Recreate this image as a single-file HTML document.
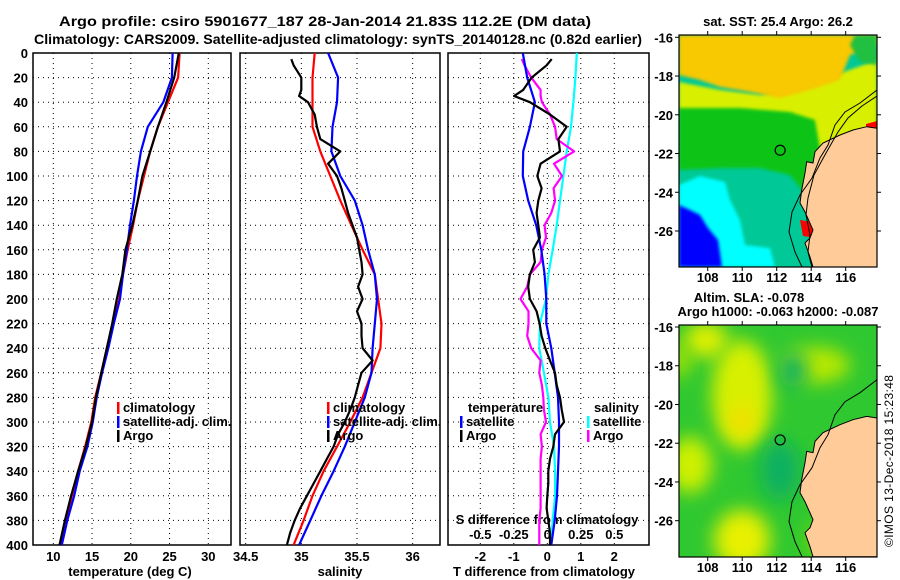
<!DOCTYPE html>
<html><head><meta charset="utf-8"><style>
html,body{margin:0;padding:0;background:#fff}
svg{display:block}
text{font-family:"Liberation Sans",sans-serif;font-weight:bold;fill:#000}
</style></head><body>
<svg id="chart" width="900" height="580" viewBox="0 0 900 580" xmlns="http://www.w3.org/2000/svg">
<defs>
<clipPath id="c1"><rect x="33" y="53" width="198" height="492"/></clipPath>
<clipPath id="c2"><rect x="240" y="53" width="200" height="492"/></clipPath>
<clipPath id="c3"><rect x="448" y="53" width="201" height="492"/></clipPath>
<clipPath id="m1"><rect x="679" y="35" width="198" height="232"/></clipPath>
<clipPath id="m2"><rect x="679" y="325" width="198" height="232"/></clipPath>
<filter id="bl" x="-20%" y="-20%" width="140%" height="140%"><feGaussianBlur stdDeviation="1.5"/></filter>
<filter id="bl2" x="-50%" y="-50%" width="200%" height="200%"><feGaussianBlur stdDeviation="9"/></filter>
</defs>
<text x="325" y="26" font-size="14" text-anchor="middle" textLength="532" lengthAdjust="spacingAndGlyphs">Argo profile: csiro 5901677_187 28-Jan-2014 21.83S 112.2E (DM data)</text>
<text x="338" y="44" font-size="14" text-anchor="middle" textLength="608" lengthAdjust="spacingAndGlyphs">Climatology: CARS2009. Satellite-adjusted climatology: synTS_20140128.nc (0.82d earlier)</text>
<g id="axes"></g>
<g id="maps"></g>
<text transform="translate(893,547) rotate(-90)" font-size="12" textLength="172" style="font-weight:normal">©IMOS 13-Dec-2018 15:23:48</text>
</svg>
<script>
// ---- data ----
const depths20 = [0,20,40,60,80,100,120,140,160,180,200,220,240,260,280,300,320,340,360,380,400];
const depths10 = [5,10,20,30,35,40,50,60,70,80,90,100,110,120,130,140,150,160,170,180,190,200,210,220,230,240,250,260,270,280,290,300,310,320,330,340,350,360,370,380,390,400];
const tempClim = [26.3,26.1,24.8,23.5,22.5,21.7,20.9,20.3,19.6,19.0,18.5,17.7,16.9,16.2,15.4,14.9,14.1,13.2,12.4,11.6,11.0];
const tempSat  = [25.4,25.3,24.2,22.2,21.3,20.8,20.4,19.9,19.5,19.0,18.6,17.8,17.1,16.3,15.6,15.1,14.4,13.4,12.7,11.8,11.1];
const tempArgo = [26.2,25.6,24.6,23.5,22.5,21.5,20.9,20.2,19.3,18.9,18.2,17.6,16.9,16.2,15.5,15.0,14.2,13.2,12.3,11.5,10.8];
const salClim  = [35.12,35.10,35.10,35.10,35.17,35.26,35.35,35.45,35.55,35.66,35.69,35.72,35.71,35.63,35.55,35.44,35.32,35.20,35.10,35.02,34.93];
const salSat   = [35.24,35.33,35.32,35.28,35.27,35.35,35.48,35.55,35.60,35.66,35.68,35.66,35.64,35.63,35.57,35.48,35.39,35.29,35.18,35.08,34.98];
const salArgo  = [34.91,34.93,35.00,35.00,34.98,35.06,35.12,35.14,35.17,35.35,35.24,35.32,35.36,35.39,35.42,35.46,35.50,35.52,35.54,35.55,35.51,35.55,35.50,35.54,35.54,35.55,35.64,35.54,35.51,35.48,35.44,35.39,35.33,35.29,35.23,35.17,35.11,35.05,34.99,34.94,34.90,34.87];
const dTSat    = [-0.73,-0.60,-0.37,-0.52,-0.72,-0.73,-0.57,-0.33,-0.18,-0.08,-0.03,-0.03,0.12,0.22,0.32,0.35,0.35,0.32,0.29,0.22,0.12];
const dSSat    = [0.22,0.21,0.195,0.177,0.145,0.12,0.095,0.07,0.04,0.008,-0.01,-0.055,-0.06,-0.025,0.008,0.02,0.05,0.058,0.058,0.04,0.028];
const dTArgo   = [0.13,-0.02,-0.47,-0.72,-0.99,-0.52,0.08,0.58,0.33,0.38,-0.20,-0.30,-0.17,-0.27,-0.32,-0.27,-0.22,-0.42,-0.37,-0.52,-0.57,-0.52,-0.32,-0.23,-0.17,-0.06,0.08,0.23,0.28,0.38,0.43,0.50,0.23,0.18,0.08,0.03,0.03,0.00,-0.02,0.03,0.08,0.08];
const dSArgo   = [-0.19,-0.17,-0.12,-0.05,-0.05,-0.04,0.02,0.058,0.07,0.20,0.05,0.11,0.047,0.058,0.03,-0.02,-0.01,-0.04,-0.05,-0.13,-0.15,-0.20,-0.14,-0.14,-0.15,-0.12,-0.05,-0.06,-0.04,-0.03,-0.025,-0.01,-0.05,-0.04,-0.05,-0.05,-0.05,-0.05,-0.05,-0.06,-0.06,-0.06];
const depthTicks = [0,20,40,60,80,100,120,140,160,180,200,220,240,260,280,300,320,340,360,380,400];
const tempTicks = [10,15,20,25,30];
const salTicks = [34.5,35,35.5,36];
const dTTicks = [-2,-1,0,1,2];
const dSTicks = [-0.5,-0.25,0,0.25,0.5];
const dSTickLabels = ["-0.5","-0.25","0","0.25","0.5"];
const lonTicks = [108,110,112,114,116];
const latTicks = [-16,-18,-20,-22,-24,-26];
const argoLon = 112.2, argoLat = -21.83;

// ---- scales ----
const yD = d => 53 + d*1.23;
const xT = t => 53.3 + (t-10)*7.75;
const xS = s => 245.7 + (s-34.5)*111.3;
const xDT = v => 547.3 + v*33.5;
const xDS = v => 547.3 + v*134;
const mx = lon => 707.7 + (lon-108)*17.25;
const my1 = lat => 37.3 + (-16-lat)*19.37;
const my2 = lat => 327 + (-16-lat)*19.37;

const NS='http://www.w3.org/2000/svg';
function mk(tag, attrs, parent){const e=document.createElementNS(NS,tag);for(const k in attrs)e.setAttribute(k,attrs[k]);parent.appendChild(e);return e;}
const ax=document.getElementById('axes');

const panels=[{l:33,r:231,clip:'c1',xs:xT,ticks:tempTicks,lab:'temperature (deg C)',labx:130,name:'temperature-panel'},
{l:240,r:440,clip:'c2',xs:xS,ticks:salTicks,lab:'salinity',labx:340,name:'salinity-panel'},
{l:448,r:649,clip:'c3',xs:xDT,ticks:dTTicks,lab:'T difference from climatology',labx:544,name:'difference-panel'}];
panels.forEach(p=>{
  const g=mk('g',{},ax);
  
  
  depthTicks.forEach(d=>{const ln=mk('line',{x1:p.l,x2:p.r,y1:yD(d),y2:yD(d),stroke:'#000','stroke-width':1,'stroke-dasharray':'1 4'},g);
    
    });
  p.ticks.forEach(t=>{const x=p.xs(t);const ln=mk('line',{x1:x,x2:x,y1:53,y2:545,stroke:'#000','stroke-width':1,'stroke-dasharray':'1 4'},g);
    
    
    const tx=mk('text',{x:x,y:561,'font-size':13,'text-anchor':'middle'},g);tx.textContent=String(t);
    
    });
  const fr=mk('rect',{x:p.l,y:53,width:p.r-p.l,height:492,fill:'none',stroke:'#000','stroke-width':1.5},g);
  
  
  const xl=mk('text',{x:p.labx,y:576,'font-size':13,'text-anchor':'middle'},g);xl.textContent=p.lab;
  
  
});
depthTicks.forEach(d=>{const tx=mk('text',{x:28,y:yD(d)+5,'font-size':13,'text-anchor':'end'},ax);tx.textContent=String(d);
  
  });
dSTicks.forEach((v,i)=>{const tx=mk('text',{x:xDS(v),y:539,'font-size':13,'text-anchor':'middle'},ax);tx.textContent=dSTickLabels[i];
  
  });
const sdt=mk('text',{x:547,y:524,'font-size':13,'text-anchor':'middle'},ax);sdt.textContent='S difference from climatology';



function line(xs,ys,fx,color,clip,name){
  const pts=xs.map((v,i)=>fx(v).toFixed(1)+','+yD(ys[i]).toFixed(1)).join(' ');
  const pl=mk('polyline',{points:pts,fill:'none',stroke:color,'stroke-width':2.2,'stroke-linejoin':'round','clip-path':'url(#'+clip+')'},ax);
  
  
}
line(tempClim,depths20,xT,'#ff0000','c1','temp-climatology-line');
line(tempSat,depths20,xT,'#0000ff','c1','temp-satellite-line');
line(tempArgo,depths20,xT,'#000000','c1','temp-argo-line');
line(salClim,depths20,xS,'#ff0000','c2','sal-climatology-line');
line(salSat,depths20,xS,'#0000ff','c2','sal-satellite-line');
line(salArgo,depths10,xS,'#000000','c2','sal-argo-line');
line(dSSat,depths20,xDS,'#00ffff','c3','sdiff-satellite-line');
line(dSArgo,depths10,xDS,'#ff00ff','c3','sdiff-argo-line');
line(dTSat,depths20,xDT,'#0000ff','c3','tdiff-satellite-line');
line(dTArgo,depths10,xDT,'#000000','c3','tdiff-argo-line');

function legend(x,y,color,label,name){
  const r=mk('rect',{x:x,y:y-10,width:2.5,height:12,fill:color},ax);
  
  
  const t=mk('text',{x:x+6,y:y,'font-size':13},ax);t.textContent=label;
  
  
}
[[117,'#ff0000','climatology'],[117,'#0000ff','satellite-adj. clim.'],[117,'#000000','Argo']].forEach((a,i)=>legend(a[0],412+i*14,a[1],a[2],'legend-entry'));
[[327,'#ff0000','climatology'],[327,'#0000ff','satellite-adj. clim.'],[327,'#000000','Argo']].forEach((a,i)=>legend(a[0],412+i*14,a[1],a[2],'legend-entry'));
const lt=mk('text',{x:468,y:412,'font-size':13},ax);lt.textContent='temperature';


const ls=mk('text',{x:594,y:412,'font-size':13},ax);ls.textContent='salinity';


legend(460,426,'#0000ff','satellite','legend-entry');
legend(460,440,'#000000','Argo','legend-entry');
legend(587,426,'#00ffff','satellite','legend-entry');
legend(587,440,'#ff00ff','Argo','legend-entry');

// ---- maps ----
const mp=document.getElementById('maps');
const landPx=[[877.3,128.3],[866.7,126.7],[853,130],[840,135],[823,143],[815,151.7],[813,163],[806.7,161.7],[805,173],[801.7,190],[800,203],[805,212],[813,230],[810,238],[805,243],[810,257],[813,267],[877,267]];
const contourA=[[877,90],[860,103],[845,112],[835,125],[828,145],[820,158],[812,178],[800,195],[792,212],[789,232],[795,252],[802,267]];
const contourB=[[877,96],[862,106],[848,118],[838,132],[826,153],[814,175],[808,198],[806,215],[810,235],[808,252],[812,267]];
function pts(a,dy){return a.map(p=>p[0]+','+(p[1]+dy)).join(' ');}
function mapFrame(name){
  const g=mk('g',{},mp);
  
  
  return g;
}
// map 1 SST
const g1=mapFrame('sst-map');
const c1=mk('g',{'clip-path':'url(#m1)'},g1);
mk('rect',{x:679,y:35,width:198,height:232,fill:'#00c896'},c1);
const sstZones=[
 ['#10c418','679,104 877,100 877,215 840,215 810,200 790,175 760,168 720,168 679,170'],
 ['#00ffff','679,185 700,176 725,182 730,200 740,220 745,245 770,248 775,267 679,267'],
 ['#0000ff','679,205 690,210 700,215 708,228 718,240 722,267 679,267'],
 ['#d8f000','679,82 720,90 760,95 800,88 877,60 877,145 840,140 822,160 815,120 790,112 740,108 700,108 679,108'],
 ['#f8c800','679,35 877,35 877,45 850,55 840,80 810,90 780,98 750,92 720,87 700,80 679,75'],
 ['#20c040','855,35 877,35 877,65 860,62 850,45']];
sstZones.forEach(z=>{const p=mk('polygon',{points:z[1],fill:z[0],filter:'url(#bl)'},c1);
  
  });
mk('polygon',{points:'866,124 877,121 877,131 866,131',fill:'#ff0000'},c1);
mk('polygon',{points:'800,220 812,222 815,238 803,236',fill:'#ff0000'},c1);
const land1=mk('polygon',{points:pts(landPx,0),fill:'#ffcc99',stroke:'#000','stroke-width':1},c1);


mk('polyline',{points:pts(contourA,0),fill:'none',stroke:'#000','stroke-width':1},c1);
mk('polyline',{points:pts(contourB,0),fill:'none',stroke:'#000','stroke-width':1},c1);
const ci1=mk('circle',{cx:mx(argoLon),cy:my1(argoLat),r:5,fill:'none',stroke:'#000','stroke-width':1.2},c1);


// map 2 SLA
const g2=mapFrame('sla-map');
const c2=mk('g',{'clip-path':'url(#m2)'},g2);
mk('rect',{x:679,y:325,width:198,height:232,fill:'#30c830'},c2);
const slaBlobs=[[706,340,22,18,'#e0f000'],[742,395,30,55,'#d8f000'],[742,420,14,16,'#f0e000'],[815,365,35,18,'#b8e800'],[690,465,22,28,'#d0f000'],[742,540,28,30,'#e8f000'],[825,540,18,18,'#80dc00'],[680,360,10,18,'#a8e400']];
slaBlobs.forEach(b=>{const e=mk('ellipse',{cx:b[0],cy:b[1],rx:b[2],ry:b[3],fill:b[4],filter:'url(#bl2)'},c2);
  
  });
[[793,370,14,18],[780,470,20,30]].forEach(b=>{const e=mk('ellipse',{cx:b[0],cy:b[1],rx:b[2],ry:b[3],fill:'#10b060',filter:'url(#bl2)'},c2);
  
  });
const land2=mk('polygon',{points:pts(landPx,289.7),fill:'#ffcc99',stroke:'#000','stroke-width':1},c2);


mk('polyline',{points:pts(contourA,289.7),fill:'none',stroke:'#000','stroke-width':1},c2);
const ci2=mk('circle',{cx:mx(argoLon),cy:my2(argoLat),r:5,fill:'none',stroke:'#000','stroke-width':1.2},c2);


[[35,267,my1,g1,278],[325,557,my2,g2,568]].forEach(m=>{
  const [top,bot,my,g,ly]=m;
  mk('rect',{x:679,y:top,width:198,height:bot-top,fill:'none',stroke:'#000','stroke-width':1.2},g);
  lonTicks.forEach(l=>{const x=mx(l);
    mk('line',{x1:x,x2:x,y1:top-4,y2:top,stroke:'#000'},g);
    mk('line',{x1:x,x2:x,y1:bot,y2:bot+4,stroke:'#000'},g);
    const t=mk('text',{x:x,y:ly+4,'font-size':13,'text-anchor':'middle'},g);t.textContent=String(l);
    
    });
  latTicks.forEach(l=>{const y=my(l);
    mk('line',{x1:675,x2:679,y1:y,y2:y,stroke:'#000'},g);
    mk('line',{x1:877,x2:881,y1:y,y2:y,stroke:'#000'},g);
    const t=mk('text',{x:673,y:y+5,'font-size':13,'text-anchor':'end'},g);t.textContent=String(l);
    
    });
});
function mtext(x,y,s,name){const t=mk('text',{x:x,y:y,'font-size':13,'text-anchor':'middle'},mp);t.textContent=s;
  
  }
mtext(778,26,'sat. SST: 25.4 Argo: 26.2','sst-map-title');
mtext(749,302,'Altim. SLA: -0.078','sla-map-title');
mtext(778,316,'Argo h1000: -0.063 h2000: -0.087','sla-map-subtitle');
</script>
</body></html>
